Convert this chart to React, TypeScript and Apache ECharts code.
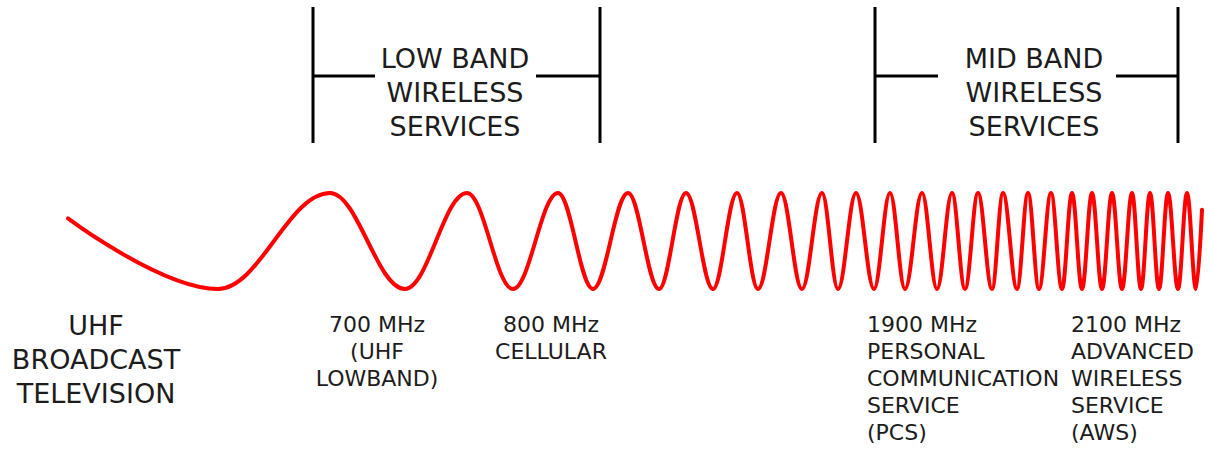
import React, { useEffect, useRef } from "react";
import * as echarts from "echarts";

// Positions (along the diagram) of the wave's start, its crests/troughs and its end
const wavePositions: number[] = [
  68, 218, 330, 405, 467, 513, 558, 593, 628, 659, 686, 713, 737, 758, 781, 802,
  822, 838, 856, 874, 890, 905, 922, 937, 952, 965, 978, 992, 1003, 1017, 1028,
  1039, 1051, 1062, 1072, 1082, 1092, 1102, 1112, 1122, 1132, 1141, 1150, 1159,
  1168, 1178, 1187, 1196, 1202,
];
// Normalised amplitude at each of those positions
const waveAmplitudes: number[] = [
  0.47, -1, 1, -1, 1, -1, 1, -1, 1, -1, 1, -1, 1, -1, 1, -1,
  1, -1, 1, -1, 1, -1, 1, -1, 1, -1, 1, -1, 1, -1, 1,
  -1, 1, -1, 1, -1, 1, -1, 1, -1, 1, -1, 1, -1,
  1, -1, 1, -1, 0.65,
];

const bandTitles: string[] = ["LOW BAND\nWIRELESS\nSERVICES", "MID BAND\nWIRELESS\nSERVICES"];
const broadcastLabel: string = "UHF\nBROADCAST\nTELEVISION";
const centeredServiceLabels: string[] = ["700 MHz\n(UHF\nLOWBAND)", "800 MHz\nCELLULAR"];
const leftServiceLabels: string[] = [
  "1900 MHz\nPERSONAL\nCOMMUNICATION\nSERVICE\n(PCS)",
  "2100 MHz\nADVANCED\nWIRELESS\nSERVICE\n(AWS)",
];

const FONT = "'DejaVu Sans', Verdana, sans-serif";
const TEXT_COLOR = "#1c1c1c";

function bracket(left: number, right: number, gapL: number, gapR: number) {
  const lineStyle = { stroke: "#000", lineWidth: 3 };
  return [
    { type: "line", shape: { x1: left, y1: 7, x2: left, y2: 143 }, style: lineStyle },
    { type: "line", shape: { x1: right, y1: 7, x2: right, y2: 143 }, style: lineStyle },
    { type: "line", shape: { x1: left, y1: 76, x2: gapL, y2: 76 }, style: lineStyle },
    { type: "line", shape: { x1: gapR, y1: 76, x2: right, y2: 76 }, style: lineStyle },
  ];
}

function label(text: string, x: number, y: number, size: number, lh: number, align: string) {
  return {
    type: "text",
    x,
    y,
    style: {
      text,
      fill: TEXT_COLOR,
      font: `${size}px ${FONT}`,
      fontFamily: FONT,
      fontSize: size,
      lineHeight: lh,
      align,
      verticalAlign: "top",
    },
  };
}

export default function App() {
  const ref = useRef<HTMLDivElement>(null);

  useEffect(() => {
    if (!ref.current) return;
    const chart = echarts.init(ref.current, null, { renderer: "svg" });
    const data = wavePositions.map((x, i) => [x, waveAmplitudes[i]]);
    chart.setOption({
      animation: false,
      backgroundColor: "#ffffff",
      grid: { left: 0, right: 0, top: 193, height: 96 },
      xAxis: { type: "value", min: 0, max: 1212, show: false },
      yAxis: { type: "value", min: -1, max: 1, show: false },
      series: [
        {
          type: "line",
          data,
          smooth: 0.37,
          smoothMonotone: "x",
          showSymbol: false,
          clip: false,
          lineStyle: { color: "#ff0000", width: 4, cap: "round" },
        },
      ],
      graphic: [
        ...bracket(313, 600, 375, 536),
        ...bracket(875, 1178, 938, 1116),
        label(bandTitles[0], 455, 41, 27, 34, "center"),
        label(bandTitles[1], 1034, 41, 27, 34, "center"),
        label(broadcastLabel, 96, 308, 27, 34, "center"),
        label(centeredServiceLabels[0], 377, 311, 22, 27, "center"),
        label(centeredServiceLabels[1], 551, 311, 22, 27, "center"),
        label(leftServiceLabels[0], 867, 311, 22, 27, "left"),
        label(leftServiceLabels[1], 1071, 311, 22, 27, "left"),
      ],
    });
    return () => chart.dispose();
  }, []);

  return (
    <div
      ref={ref}
      style={{ position: "fixed", left: 0, top: 0, width: 1212, height: 452, background: "#fff" }}
    />
  );
}
